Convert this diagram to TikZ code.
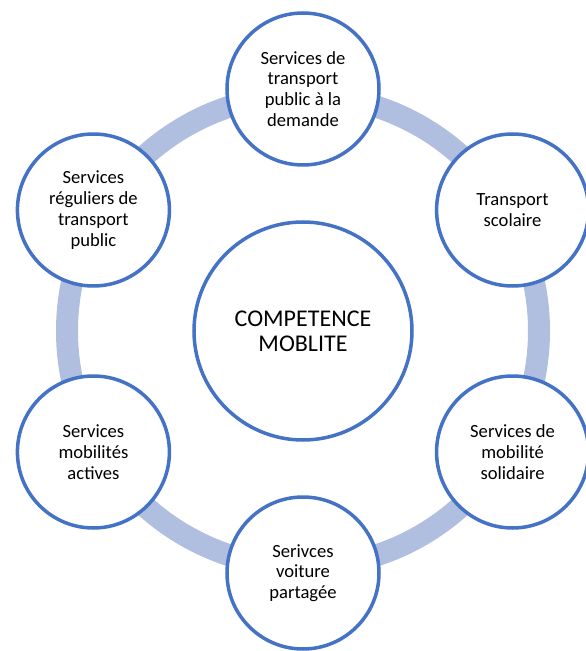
\documentclass[tikz,border=0pt]{standalone}
\usepackage{fontspec}
\setmainfont{Carlito}
\usetikzlibrary{positioning}
\definecolor{ringblue}{RGB}{176,190,224}
\definecolor{edgeblue}{RGB}{68,114,196}
\def\rr{236pt}
\def\nr{242pt}
\tikzset{
    border/.style = {
        draw=edgeblue, circle, fill=white, line width=3.5pt, minimum size=152pt,
        inner sep=0pt, align=center, font=\fontsize{18.6}{20.8}\selectfont
    },
    hubborder/.style = {
        border, minimum size=218pt, font=\fontsize{24}{25}\selectfont
    },
    ringline/.style = {
        draw=ringblue, line width=22pt
    },
    pics/Service/.style ={
        code = {
            \node [border](-edge){#1};
    }}
    }

\begin{document}
\begin{tikzpicture}[x=1pt, y=1pt]
        \useasboundingbox (-303,-320) rectangle (283,331);
        % Ring behind everything, then the centre
        \coordinate (mid) at (0,0);
        \draw[ringline] (mid) circle[radius=\rr];
        \node [hubborder] (hub) at (mid) {COMPETENCE\\MOBLITE};
        % Place the services
        \pic (s1) at (90:\nr) {Service={Services de\\transport\\public à la\\demande}};
        \pic (s2) at (30:\nr) {Service={Transport\\scolaire}};
        \pic (s3) at (-30:\nr) {Service={Services de\\mobilité\\solidaire}};
        \pic (s4) at (-90:\nr) {Service={Serivces\\voiture\\partagée}};
        \pic (s5) at (210:\nr) {Service={Services\\mobilités\\actives}};
        \pic (s6) at (150:\nr) {Service={Services\\réguliers de\\transport\\public}};
    \end{tikzpicture}
\end{document}
